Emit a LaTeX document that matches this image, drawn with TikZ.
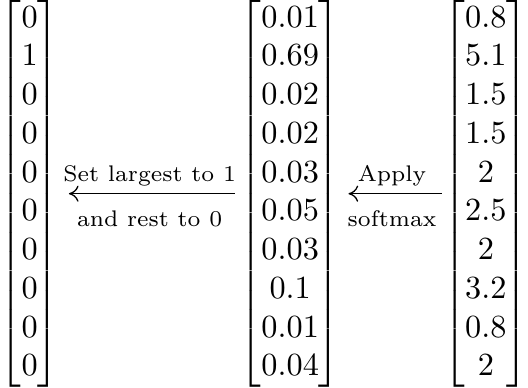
\documentclass[tikz,border=0pt]{standalone}
\usepackage{amsmath,amssymb}
\usepackage{xcolor}
\usetikzlibrary{positioning,arrows.meta}

\tikzset{
  vec/.style={inner sep=0pt, outer sep=0pt},
  step label/.style={inner sep=0pt, font=\scriptsize},
  pass/.style={{Computer Modern Rightarrow[length=3pt,width=5pt]}-, line width=0.4pt}
}

\begin{document}
\begin{tikzpicture}
            \node[vec] (onehot) at (0, 0) {$\begin{bmatrix}0\\1\\0\\0\\0\\0\\0\\0\\0\\0\end{bmatrix}$};
            \node[vec, right=56pt of onehot] (probs) {$\begin{bmatrix}0.01\\0.69\\0.02\\0.02\\0.03\\0.05\\0.03\\0.1\\0.01\\0.04\end{bmatrix}$};
            \node[vec, right=32pt of probs] (logits) {$\begin{bmatrix}0.8\\5.1\\1.5\\1.5\\2\\2.5\\2\\3.2\\0.8\\2\end{bmatrix}$};
            \draw[pass, shorten <=3pt, shorten >=1.5pt] (onehot) -- (probs)
              node[midway, above=2.1pt, step label] (sl) {Set largest to 1}
              node[midway, below=5pt, step label] (rz) {and rest to 0};
            \draw[pass, shorten <=2.5pt, shorten >=0.5pt] (probs) -- (logits)
              node[midway, above=2.1pt, step label] (ap) {Apply}
              node[midway, below=5pt, step label] (sm) {softmax};
          \end{tikzpicture}
\end{document}
